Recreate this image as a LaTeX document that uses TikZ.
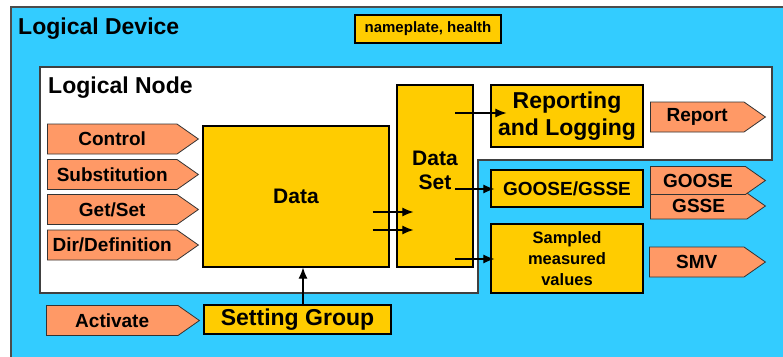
\documentclass[tikz,border=0pt]{standalone}
\usepackage{fontspec}
\setmainfont{Liberation Sans}
\usetikzlibrary{shapes.symbols,arrows.meta}

\definecolor{devblue}{RGB}{51,204,255}
\definecolor{datayellow}{RGB}{255,204,0}
\definecolor{msgorange}{RGB}{255,153,102}

\newcommand{\fsz}[1]{\fontsize{#1}{#1}\selectfont\bfseries}

\begin{document}
\begin{tikzpicture}[x=1pt, y=-1pt]
    \tikzset{
        ybox/.style={draw=black, line width=1.2pt, fill=datayellow, inner sep=0pt, align=center},
        msg/.style={signal, signal to=east, signal pointer angle=70, draw=gray!40!black, line width=0.8pt,
            fill=msgorange, inner sep=0pt, minimum height=30, minimum width=151, anchor=west, font=\fsz{19}},
        arr/.style={line width=1.1pt, -{Latex[length=11pt, width=9pt]}},
    }
    \useasboundingbox (0,0) rectangle (783,356);
    % device and node frames
    \fill[devblue] (11,7) rectangle (783,360);
    \draw[gray!60!black, line width=1.2pt] (11,360) -- (11,7) -- (783,7);
    \filldraw[fill=white, draw=gray!50!black, line width=1.2pt] (40,67) -- (772,67) -- (772,160)
        -- (478,160) -- (478,293) -- (40,293) -- cycle;
    \node[anchor=base west, font=\fsz{23}, inner sep=0pt] (devtitle) at (18,34) {Logical Device};
    \node[anchor=base west, font=\fsz{23}, inner sep=0pt] (lntitle) at (48,93) {Logical Node};
    \node[ybox, minimum width=146, minimum height=28, font=\fsz{15}] (nameplate) at (428,29) {nameplate, health};

    % inputs
    \node[msg] (control) at (47,139) {Control};
    \node[msg] (subst) at (47,174.5) {Substitution};
    \node[msg] (getset) at (47,209.5) {Get/Set};
    \node[msg] (dirdef) at (47,245) {Dir/Definition};
    \node[msg, minimum width=153] (activate) at (46,320.5) {Activate};

    % data boxes
    \node[ybox, minimum width=186, minimum height=141, font=\fsz{21}] (data) at (296,196.5) {Data};
    \node[ybox, minimum width=187, minimum height=29, font=\fsz{23}] (setgroup) at (297.5,319.5) {Setting Group};
    \node[ybox, minimum width=76, minimum height=182,
        label={[font=\fsz{21}, align=center, yshift=6pt]center:Data\\[3pt]Set}] (dset) at (435,176) {};

    % services
    \node[ybox, minimum width=152, minimum height=62, font=\fontsize{23}{27}\selectfont\bfseries] (report) at (567,116) {Reporting\\and Logging};
    \node[ybox, minimum width=152, minimum height=37, font=\fsz{19}] (goose) at (567,188.5) {GOOSE/GSSE};
    \node[ybox, minimum width=152, minimum height=69, font=\fontsize{16.5}{21}\selectfont\bfseries] (smv) at (567,258.5) {Sampled\\measured\\values};

    % outputs
    \node[msg, minimum width=115] (reportmsg) at (650,117) {Report};
    \node[msg, minimum width=115, minimum height=26] (gssemsg) at (650,206) {GSSE};
    \node[msg, minimum width=115, minimum height=28] (goosemsg) at (650,180.5) {GOOSE};
    \node[msg, minimum width=116] (smvmsg) at (649,262) {SMV};

    % connectors
    \draw[arr] ([xshift=5.5]setgroup.north) -- ([xshift=7]data.south);
    \draw[arr] ([shift={(-17,15.5)}]data.east) -- ([shift={(17,36)}]dset.west);
    \draw[arr] ([shift={(-17,33.5)}]data.east) -- ([shift={(17,54)}]dset.west);
    \draw[arr] ([shift={(20,-63)}]dset.center) -- ([shift={(16,-3)}]report.west);
    \draw[arr] ([shift={(20,13)}]dset.center) -- ([shift={(4,0.5)}]goose.west);
    \draw[arr] ([shift={(20,83)}]dset.center) -- ([shift={(4,0.5)}]smv.west);
\end{tikzpicture}
\end{document}
